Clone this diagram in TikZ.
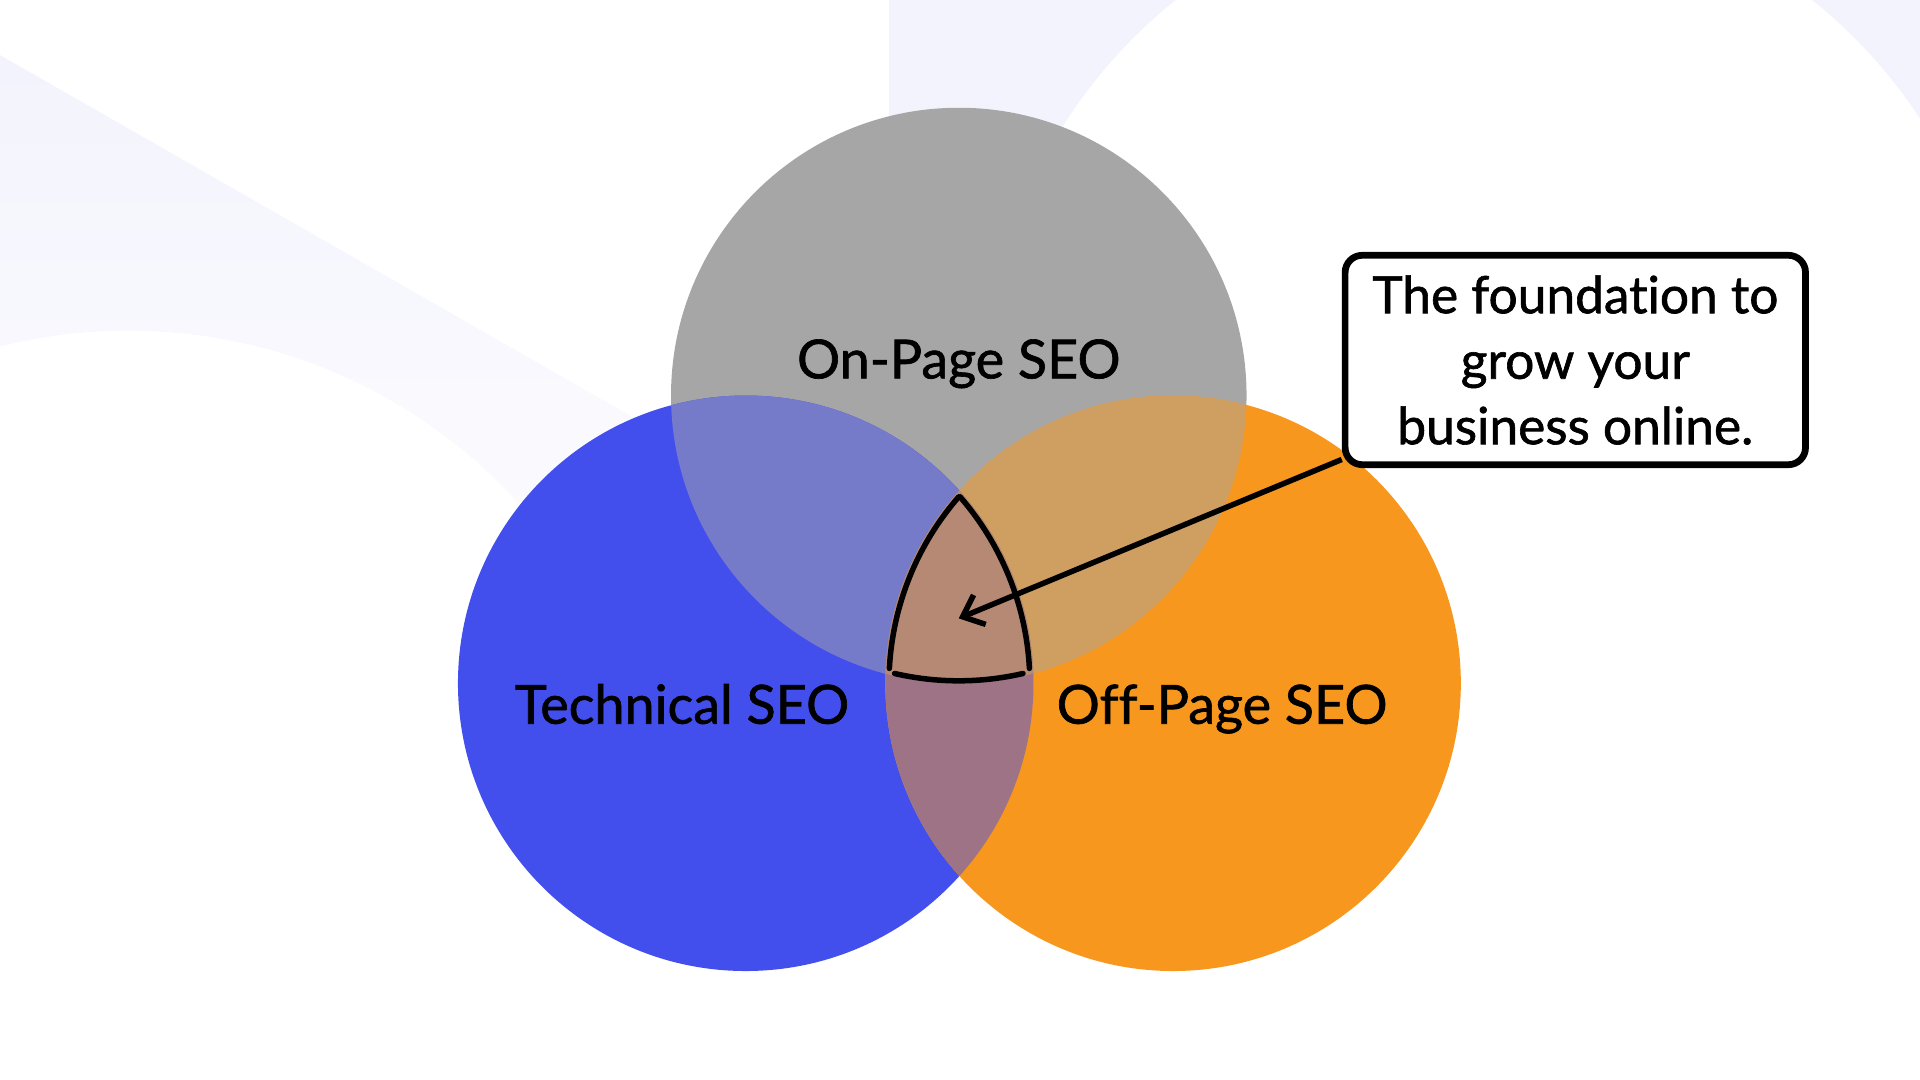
\documentclass[tikz,border=0pt]{standalone}
\usepackage{fontspec}
\setmainfont{Lato}[Ligatures=NoCommon, FakeBold=1.2]
\usetikzlibrary{arrows.meta}
\usetikzlibrary{positioning}
\definecolor{mgray}{HTML}{A6A6A6}
\definecolor{mblue}{HTML}{434FEC}
\definecolor{morange}{HTML}{F7971E}
\definecolor{mcore}{HTML}{B58974}
\definecolor{mlilac}{HTML}{F3F3FD}

\begin{document}
\begin{tikzpicture}[x=1pt, y=-1pt,
    venn/.style={anchor=base, font=\fontsize{44}{50}\selectfont},
    rim/.style={line width=4.5pt, line cap=round}]
  \useasboundingbox (0, 0) rectangle (1568, 882);
  \fill [white] (0, 0) rectangle (1568, 882);

  \shade [top color=mlilac, bottom color=white] (0, 45) -- (760, 480) -- (0, 620) -- cycle;
  \fill [white] (105, 700) circle (430);
  \fill [mlilac] (726, 0) rectangle (1568, 330);
  \fill [white] (1220, 325) circle (416);

  \fill [mgray] (783, 323) circle (235);
  \fill [mblue] (609, 558) circle (235);
  \fill [morange] (958, 558) circle (235);
  \begin{scope}
    \clip (783, 323) circle (235);
    \fill [mblue!50!mgray] (609, 558) circle (235);
    \fill [morange!50!mgray] (958, 558) circle (235);
  \end{scope}
  \begin{scope}
    \clip (609, 558) circle (235);
    \fill [morange!50!mblue] (958, 558) circle (235);
    \clip (958, 558) circle (235);
    \fill [mcore] (783, 323) circle (235);
  \end{scope}

  \node [venn] (onpage) at (783, 309) {On-Page SEO};
  \node [venn] (technical) at (557, 591) {Technical SEO};
  \node [venn] (offpage) at (998, 591) {Off-Page SEO};

  \draw [rim] (958, 558) ++(221:232) arc [start angle=221, end angle=183, radius=232];
  \draw [rim] (609, 558) ++(-41:232) arc [start angle=-41, end angle=-3, radius=232];
  \draw [rim] (783, 323) ++(103:233) arc [start angle=103, end angle=77, radius=233];

  \node [draw, line width=5.5pt, rounded corners=14pt, fill=white, minimum width=376pt, minimum height=171pt, inner sep=0pt, align=center, font=\fontsize{42}{53.5}\selectfont] (note) at (1286.5, 294) {The foundation to\\grow your\\business online.};
  \coordinate (core) at (783, 505);
  \draw [line width=4.5pt, -{Straight Barb[length=15pt, width=26pt]}] ([yshift=7pt]note.south west) -- (core);
\end{tikzpicture}
\end{document}
